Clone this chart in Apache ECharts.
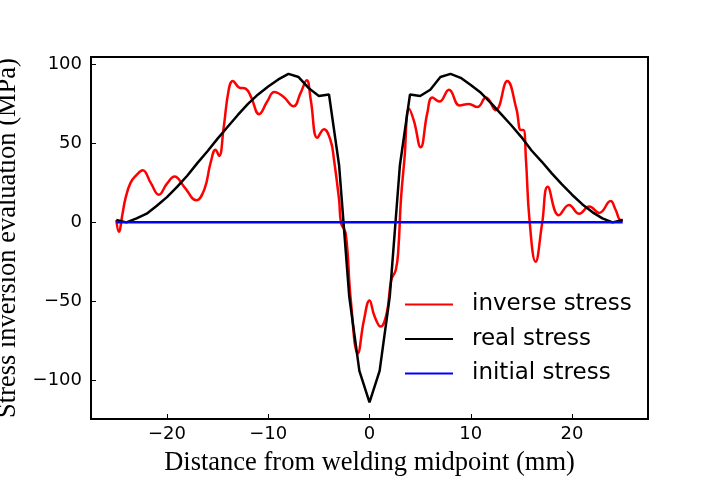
<!DOCTYPE html>
<html>
<head>
<meta charset="utf-8">
<script src="https://cdn.jsdelivr.net/npm/echarts@6/dist/echarts.min.js"></script>
<style>
  html, body { margin: 0; background: #fff; }
  #chart { width: 720px; height: 480px; }
</style>
</head>
<body>
<div id="chart"></div>
<script>
// distance (mm) / stress (MPa)
const realX = [-25, -24, -23, -22, -21, -20, -19, -18, -17, -16, -15, -14, -13, -12, -11, -10, -9, -8, -7, -6, -5, -4, -3, -2, -1,
  0, 1, 2, 3, 4, 5, 6, 7, 8, 9, 10, 11, 12, 13, 14, 15, 16, 17, 18, 19, 20, 21, 22, 23, 24, 25]
const realY = [1.5, 0, 2.5, 5.5, 10.5, 16, 22.5, 29.5, 37.5, 45, 53, 60.5, 68, 75, 81, 86, 90.5, 94, 92, 85, 80, 81, 36, -47, -94,
  -114, -94, -47, 36, 81, 80, 84, 92, 94, 91.5, 87, 82, 75.5, 68.5, 61.5, 54, 45.5, 38.5, 31, 24, 17.5, 11.5, 6.5, 2.5, 0, 1.5]

const inverseX = [-25, -24.75, -24.4, -24.1, -23.6, -23, -22.4, -21.6, -20.8, -20, -19.25, -18.3, -17.1, -16.3, -15.7, -15.2,
  -14.85, -14.4, -13.9, -13.5, -12.9, -12.2, -11.7, -10.9, -10.1, -9.4, -8.5, -7.5, -6.8, -6.2, -5.8, -5.15, -4.5, -3.85,
  -3.5, -3, -2.8, -2.35, -1.85, -1.15, -0.55, 0, 0.5, 1.1, 1.7, 2.15, 2.6, 2.85, 3.1, 3.45, 3.9, 4.4, 5.05, 5.7, 6.2,
  6.9, 7.85, 8.9, 9.8, 10.65, 11.5, 12.45, 13.6, 14.5, 14.95, 15.2, 15.45, 15.8, 16.4, 17.05, 17.6, 18.7, 19.7, 20.7,
  21.7, 22.7, 23.8, 24.3, 24.8, 25]
const inverseY = [1.5, -6, 5, 15, 25, 30, 33, 25, 17.5, 24.5, 29, 22.5, 14, 21, 37.5, 46,
  42, 60, 84, 89.5, 85.5, 84.5, 79.5, 68.5, 76.5, 82.5, 79.5, 73.5, 82, 90, 77.5, 53.5, 59, 52,
  39.5, 14, -0.5, -7, -49, -83, -62, -49.5, -59.5, -66, -57.5, -36.5, -30, -17, 14, 40, 72, 64, 47.5, 69, 79,
  76.5, 84, 74, 75, 73, 79, 71, 89.5, 72, 58.5, 58.5, 39.5, 1.5, -25, -0.5, 22.5, 4.5, 11, 5.5,
  10, 6, 13.5, 8, 1.5, 1.5]

const initialX = [-25, 25]
const initialY = [0, 0]

const zip = (xs, ys) => xs.map((x, i) => [x, ys[i]])
const minus = v => String(v).replace('-', '\u2212')

const chart = echarts.init(document.getElementById('chart'))
chart.setOption({
  animation: false,
  grid: {
    left: 91,
    right: 72,
    top: 57,
    bottom: 61,
    outerBoundsMode: 'none',
    containLabel: false,
    show: true,
    borderColor: '#000',
    borderWidth: 2
  },
  legend: {
    orient: 'vertical',
    left: 405,
    top: 293,
    padding: 0,
    icon: 'rect',
    itemWidth: 48,
    itemHeight: 2,
    itemGap: 11.5,
    textStyle: {
      fontFamily: 'DejaVu Sans',
      fontSize: 23,
      color: '#000',
      padding: [0, 0, 0, 14]
    },
    data: ['inverse stress', 'real stress', 'initial stress']
  },
  xAxis: {
    type: 'value',
    min: -27.5,
    max: 27.5,
    name: 'Distance from welding midpoint (mm)',
    nameLocation: 'middle',
    nameGap: 31,
    nameTextStyle: {
      fontFamily: 'Liberation Serif',
      fontSize: 26.5,
      color: '#000'
    },
    axisLine: { onZero: false, lineStyle: { color: '#000', width: 2 } },
    axisTick: { inside: true, length: 5, lineStyle: { color: '#000' } },
    axisLabel: {
      fontFamily: 'DejaVu Sans',
      fontSize: 18,
      color: '#000',
      margin: 6,
      showMinLabel: false,
      showMaxLabel: false,
      formatter: minus
    },
    splitLine: { show: false }
  },
  yAxis: {
    type: 'value',
    min: -124.5,
    max: 104.7,
    name: 'Stress inversion evaluation (MPa)',
    nameLocation: 'middle',
    nameGap: 65,
    nameTextStyle: {
      fontFamily: 'Liberation Serif',
      fontSize: 26.5,
      color: '#000'
    },
    axisLine: { show: true, onZero: false, lineStyle: { color: '#000', width: 2 } },
    axisTick: { show: true, inside: true, length: 5, lineStyle: { color: '#000' } },
    axisLabel: {
      fontFamily: 'DejaVu Sans',
      fontSize: 18,
      color: '#000',
      margin: 9,
      showMinLabel: false,
      showMaxLabel: false,
      formatter: minus
    },
    splitLine: { show: false }
  },
  series: [
    {
      name: 'inverse stress',
      type: 'line',
      data: zip(inverseX, inverseY),
      showSymbol: false,
      smooth: 0.45,
      lineStyle: { color: '#ff0000', width: 2.5 },
      itemStyle: { color: '#ff0000' }
    },
    {
      name: 'real stress',
      type: 'line',
      data: zip(realX, realY),
      showSymbol: false,
      lineStyle: { color: '#000', width: 2.5 },
      itemStyle: { color: '#000' }
    },
    {
      name: 'initial stress',
      type: 'line',
      data: zip(initialX, initialY),
      showSymbol: false,
      lineStyle: { color: '#0000ff', width: 2.5 },
      itemStyle: { color: '#0000ff' }
    }
  ]
})
</script>
</body>
</html>
